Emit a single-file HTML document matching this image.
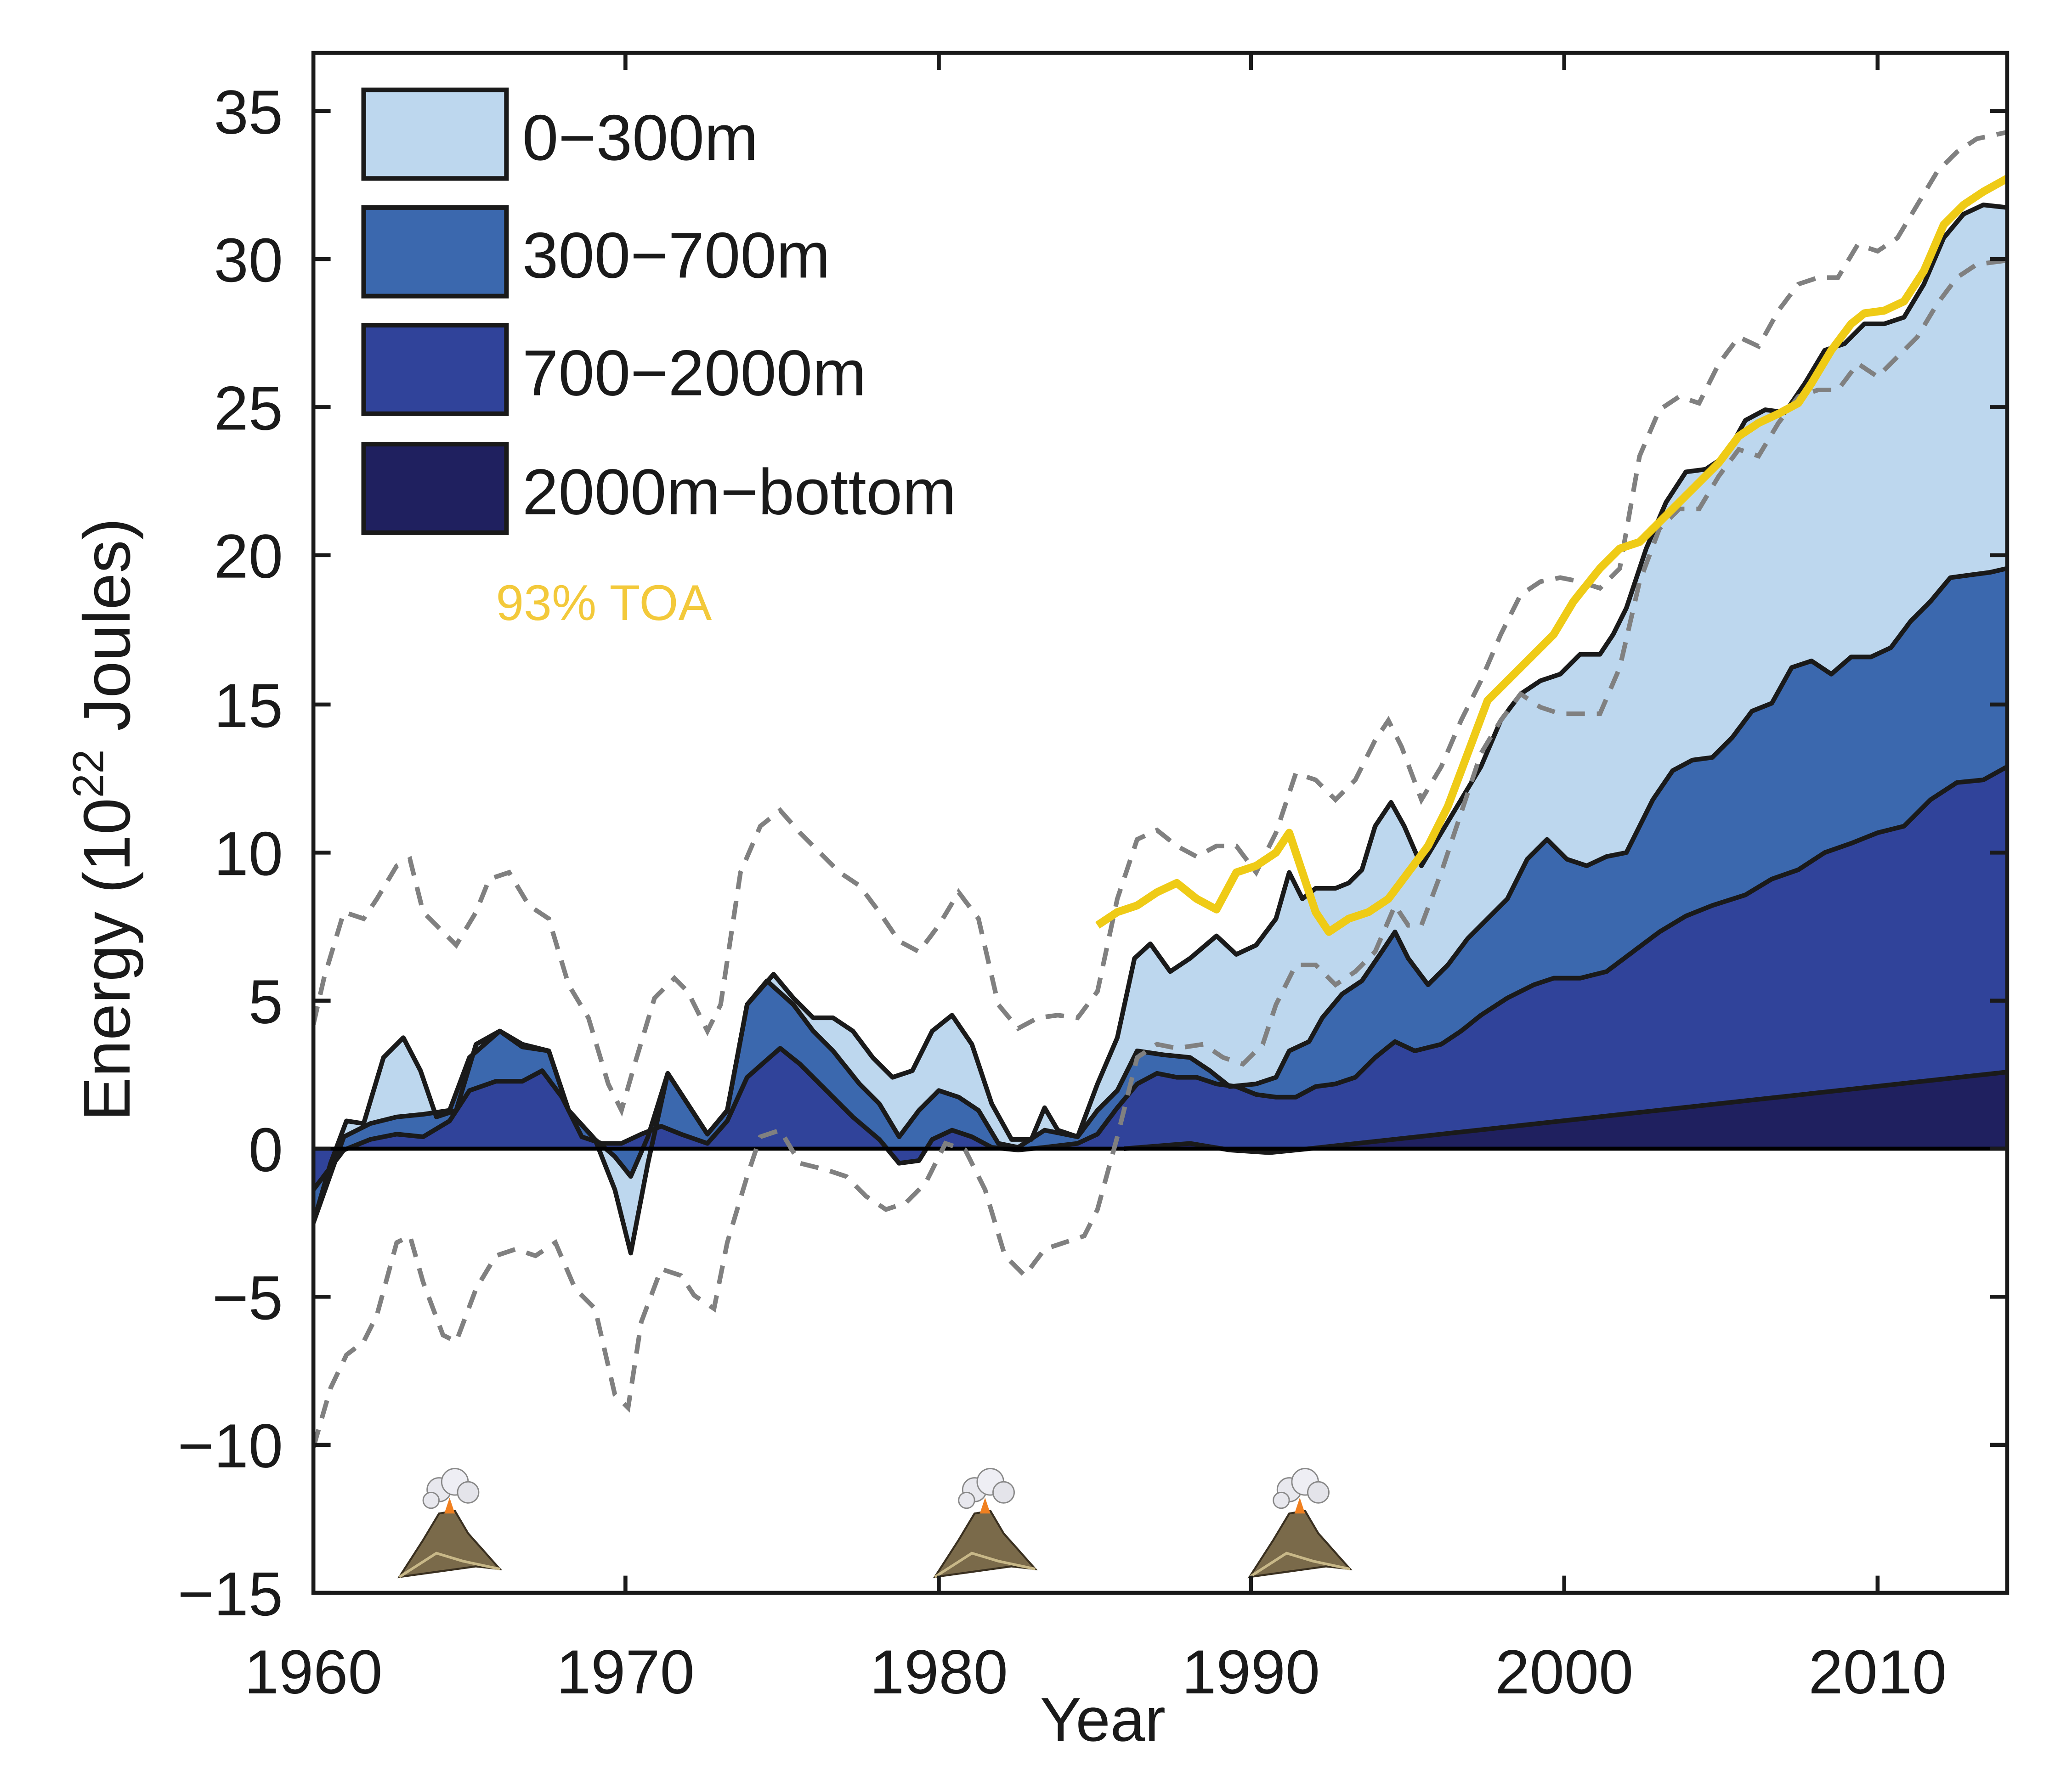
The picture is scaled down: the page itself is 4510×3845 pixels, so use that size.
<!DOCTYPE html>
<html><head><meta charset="utf-8"><style>html,body{margin:0;padding:0;background:#fff}svg{display:block}</style></head>
<body>
<svg width="4510" height="3845" viewBox="0 0 1567 1336" xmlns="http://www.w3.org/2000/svg" font-family="Liberation Sans, sans-serif">
<rect width="1567" height="1336" fill="#fff"/>
<defs><clipPath id="c"><rect x="237" y="40" width="1281" height="1165"/></clipPath>
<g id="volc">
<path d="M-38,78 L-20,50 L-8,30 L4,28 L14,45 L38,72 L20,70 Z" fill="#7a6a4a" stroke="#3a3020" stroke-width="1.5"/>
<path d="M-38,78 L-10,60 L10,66 L38,72" fill="none" stroke="#c8b888" stroke-width="2"/>
<path d="M-4,30 L0,18 L4,30 Z" fill="#f08020"/>
<circle cx="-8" cy="12" r="9" fill="#e8e8ee" stroke="#888" stroke-width="1"/>
<circle cx="4" cy="6" r="10" fill="#eeeef4" stroke="#888" stroke-width="1"/>
<circle cx="14" cy="14" r="8" fill="#e4e4ea" stroke="#888" stroke-width="1"/>
<circle cx="-14" cy="20" r="6" fill="#e8e8ee" stroke="#888" stroke-width="1"/>
</g></defs>
<g clip-path="url(#c)">
<polygon fill="#bdd7ee" points="237,869 237,925 250,880 262,848 275,850 290,800 305,785 318,810 330,845 345,840 360,790 378,780 395,790 415,795 430,840 450,862 465,900 477,948 490,880 505,812 520,835 535,858 550,840 565,760 585,737 600,755 615,770 630,770 645,780 660,800 675,815 690,810 705,780 720,768 735,790 750,835 765,862 780,862 790,838 800,855 815,860 830,820 845,785 858,725 870,714 885,735 900,725 920,708 935,722 950,715 965,695 975,660 985,680 995,672 1010,672 1020,668 1030,658 1040,625 1052,607 1062,625 1075,655 1090,630 1105,605 1120,580 1135,545 1150,525 1165,515 1180,510 1195,495 1210,495 1220,480 1230,460 1245,415 1260,380 1275,357 1290,355 1305,345 1320,318 1335,310 1350,312 1365,290 1380,265 1395,260 1410,245 1425,245 1440,240 1455,215 1470,180 1485,162 1500,155 1518,157 1518,869"/>
<polygon fill="#3b68ae" points="237,869 237,925 260,860 280,850 300,845 320,843 340,840 355,800 378,780 395,792 415,795 430,840 450,862 465,875 477,890 490,860 505,812 520,835 535,858 550,840 565,760 580,742 600,760 615,780 630,795 650,820 665,835 680,860 695,840 710,825 725,830 740,840 755,865 770,868 790,855 815,860 830,840 845,825 860,795 880,798 900,800 915,810 930,822 950,820 965,815 975,795 990,788 1000,770 1015,752 1030,742 1045,720 1055,705 1065,725 1080,745 1095,730 1110,710 1125,695 1140,680 1155,650 1170,635 1185,650 1200,655 1215,648 1230,645 1250,605 1265,583 1280,575 1295,573 1310,558 1325,538 1340,532 1355,505 1370,500 1385,510 1400,497 1415,497 1430,490 1445,470 1460,455 1475,437 1490,435 1505,433 1518,430 1518,869"/>
<polygon fill="#30439a" points="237,869 237,900 260,870 280,862 300,858 320,860 340,848 355,825 375,818 395,818 410,810 425,830 440,860 455,865 470,865 485,858 500,852 515,858 535,865 550,848 565,815 590,793 605,805 625,825 645,845 665,862 680,880 695,878 705,862 720,855 735,860 750,868 770,870 790,868 815,865 830,858 845,838 860,820 875,812 890,815 905,815 920,820 935,822 950,828 965,830 980,830 995,822 1010,820 1025,815 1040,800 1055,788 1070,795 1090,790 1105,780 1120,768 1140,755 1160,745 1175,740 1195,740 1215,735 1235,720 1255,705 1275,693 1295,685 1320,677 1340,665 1360,658 1380,645 1400,638 1420,630 1440,625 1460,605 1480,592 1500,590 1518,580 1518,869"/>
<polygon fill="#1f205f" points="237,869 850,869 900,865 930,870 960,872 990,869 1518,811 1518,869"/>
<g fill="none" stroke="#1a1a1a" stroke-width="3.5" stroke-linejoin="round">
<polyline points="237,925 250,880 262,848 275,850 290,800 305,785 318,810 330,845 345,840 360,790 378,780 395,790 415,795 430,840 450,862 465,900 477,948 490,880 505,812 520,835 535,858 550,840 565,760 585,737 600,755 615,770 630,770 645,780 660,800 675,815 690,810 705,780 720,768 735,790 750,835 765,862 780,862 790,838 800,855 815,860 830,820 845,785 858,725 870,714 885,735 900,725 920,708 935,722 950,715 965,695 975,660 985,680 995,672 1010,672 1020,668 1030,658 1040,625 1052,607 1062,625 1075,655 1090,630 1105,605 1120,580 1135,545 1150,525 1165,515 1180,510 1195,495 1210,495 1220,480 1230,460 1245,415 1260,380 1275,357 1290,355 1305,345 1320,318 1335,310 1350,312 1365,290 1380,265 1395,260 1410,245 1425,245 1440,240 1455,215 1470,180 1485,162 1500,155 1518,157"/>
<polyline points="237,925 260,860 280,850 300,845 320,843 340,840 355,800 378,780 395,792 415,795 430,840 450,862 465,875 477,890 490,860 505,812 520,835 535,858 550,840 565,760 580,742 600,760 615,780 630,795 650,820 665,835 680,860 695,840 710,825 725,830 740,840 755,865 770,868 790,855 815,860 830,840 845,825 860,795 880,798 900,800 915,810 930,822 950,820 965,815 975,795 990,788 1000,770 1015,752 1030,742 1045,720 1055,705 1065,725 1080,745 1095,730 1110,710 1125,695 1140,680 1155,650 1170,635 1185,650 1200,655 1215,648 1230,645 1250,605 1265,583 1280,575 1295,573 1310,558 1325,538 1340,532 1355,505 1370,500 1385,510 1400,497 1415,497 1430,490 1445,470 1460,455 1475,437 1490,435 1505,433 1518,430"/>
<polyline points="237,900 260,870 280,862 300,858 320,860 340,848 355,825 375,818 395,818 410,810 425,830 440,860 455,865 470,865 485,858 500,852 515,858 535,865 550,848 565,815 590,793 605,805 625,825 645,845 665,862 680,880 695,878 705,862 720,855 735,860 750,868 770,870 790,868 815,865 830,858 845,838 860,820 875,812 890,815 905,815 920,820 935,822 950,828 965,830 980,830 995,822 1010,820 1025,815 1040,800 1055,788 1070,795 1090,790 1105,780 1120,768 1140,755 1160,745 1175,740 1195,740 1215,735 1235,720 1255,705 1275,693 1295,685 1320,677 1340,665 1360,658 1380,645 1400,638 1420,630 1440,625 1460,605 1480,592 1500,590 1518,580"/>
<polyline points="850,869 900,865 930,870 960,872 990,869 1518,811"/>
</g>
<line x1="237" y1="869" x2="1518" y2="869" stroke="#000" stroke-width="3"/>
<g fill="none" stroke="#808080" stroke-width="3.5" stroke-dasharray="14,9">
<polyline points="237,775 245,740 260,690 275,695 285,680 300,655 310,650 320,690 335,705 345,715 360,690 370,665 385,660 400,685 415,695 430,745 445,770 460,820 470,840 480,805 495,755 510,740 520,750 535,780 545,760 560,660 575,625 590,613 605,630 620,645 635,660 650,670 665,690 680,712 695,720 710,700 725,675 740,695 755,760 770,778 785,770 800,768 815,770 830,750 845,680 860,635 875,628 890,640 905,648 920,640 935,640 950,660 965,630 980,585 995,590 1010,605 1025,590 1040,560 1050,545 1060,565 1075,605 1090,580 1105,545 1120,515 1135,480 1150,450 1165,440 1180,437 1195,440 1210,445 1225,430 1240,345 1255,310 1270,300 1285,305 1300,275 1315,255 1330,262 1345,235 1360,215 1375,210 1390,210 1405,185 1420,190 1435,180 1450,155 1465,130 1480,115 1495,105 1518,100"/>
<polyline points="237,1095 250,1050 262,1025 275,1015 285,995 300,940 310,935 320,970 335,1010 345,1015 360,975 375,950 390,945 405,950 420,940 435,975 450,990 465,1055 475,1065 485,1000 500,960 515,965 525,980 540,990 550,940 565,890 575,860 590,855 605,880 625,885 640,890 655,905 670,915 685,910 700,895 715,865 730,870 745,900 760,950 775,965 790,945 805,940 820,935 830,915 845,860 860,800 875,790 890,793 910,790 925,800 940,805 955,790 965,760 980,730 995,730 1010,745 1025,735 1040,720 1055,685 1065,700 1075,700 1090,660 1105,615 1120,570 1135,545 1150,525 1165,535 1180,540 1195,540 1210,540 1225,505 1240,440 1255,400 1270,385 1285,385 1300,360 1315,340 1330,345 1345,320 1360,300 1375,295 1390,295 1405,275 1420,285 1435,270 1450,255 1465,230 1480,210 1495,200 1518,197"/>
</g>
<polyline fill="none" stroke="#efcb16" stroke-width="6" stroke-linejoin="round" points="830,700 845,690 860,685 875,675 890,668 905,680 920,688 935,660 950,655 965,645 975,630 985,660 995,690 1005,705 1020,695 1035,690 1050,680 1065,660 1080,640 1095,610 1110,570 1125,530 1140,515 1160,495 1175,480 1190,455 1210,430 1225,415 1240,410 1255,395 1270,380 1285,365 1300,350 1315,330 1330,320 1345,313 1360,305 1370,290 1385,265 1400,245 1410,237 1425,235 1440,228 1455,205 1470,170 1485,155 1500,145 1518,135"/>
</g>
<use href="#volc" x="340" y="1115"/>
<use href="#volc" x="745" y="1115"/>
<use href="#volc" x="983" y="1115"/>
<rect x="237" y="40" width="1281" height="1165" fill="none" stroke="#1a1a1a" stroke-width="3"/>
<g stroke="#1a1a1a" stroke-width="3">
<path d="M237,84h13M237,196h13M237,308h13M237,420h13M237,533h13M237,645h13M237,757h13M237,869h13M237,981h13M237,1093h13M237,1205h13"/>
<path d="M1518,84h-13M1518,196h-13M1518,308h-13M1518,420h-13M1518,533h-13M1518,645h-13M1518,757h-13M1518,869h-13M1518,981h-13M1518,1093h-13"/>
<path d="M473,1205v-13M710,1205v-13M946,1205v-13M1183,1205v-13M1420,1205v-13M473,40v13M710,40v13M946,40v13M1183,40v13M1420,40v13"/>
</g>
<g font-size="47" fill="#1a1a1a" text-anchor="end">
<text x="214" y="101">35</text><text x="214" y="213">30</text><text x="214" y="325">25</text><text x="214" y="437">20</text><text x="214" y="550">15</text><text x="214" y="662">10</text><text x="214" y="774">5</text><text x="214" y="886">0</text><text x="214" y="998">−5</text><text x="214" y="1110">−10</text><text x="214" y="1222">−15</text>
</g>
<g font-size="47" fill="#1a1a1a" text-anchor="middle">
<text x="237" y="1281">1960</text><text x="473" y="1281">1970</text><text x="710" y="1281">1980</text><text x="946" y="1281">1990</text><text x="1183" y="1281">2000</text><text x="1420" y="1281">2010</text>
<text x="834" y="1317">Year</text>
<text transform="translate(98,620) rotate(-90)" font-size="50">Energy (10<tspan font-size="33" dy="-20">22</tspan><tspan dy="20"> Joules)</tspan></text>
</g>
<g stroke="#1a1a1a" stroke-width="3.5">
<rect x="275" y="68" width="108" height="67" fill="#bdd7ee"/>
<rect x="275" y="157" width="108" height="67" fill="#3b68ae"/>
<rect x="275" y="246" width="108" height="67" fill="#30439a"/>
<rect x="275" y="336" width="108" height="67" fill="#1f205f"/>
</g>
<g font-size="49" fill="#1a1a1a">
<text x="395" y="121">0−300m</text><text x="395" y="210">300−700m</text><text x="395" y="299">700−2000m</text><text x="395" y="389">2000m−bottom</text>
</g>
<text x="375" y="469" font-size="38" fill="#f3c93a">93% TOA</text>
</svg>
</body></html>
